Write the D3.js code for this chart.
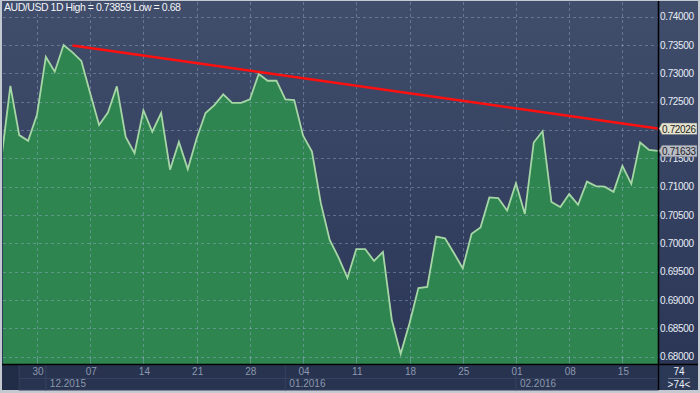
<!DOCTYPE html>
<html>
<head>
<meta charset="utf-8">
<script src="https://cdn.jsdelivr.net/npm/d3@7"></script>
<style>
  html, body { margin: 0; padding: 0; background: #c4c8d0; }
  svg { display: block; }
  text { font-family: "Liberation Sans", Arial, sans-serif; }
</style>
</head>
<body>
<div class="vis-chart"></div>
<script>
// daily closes, AUD/USD, 25.11.2015 .. 19.02.2016 (6 bars per week)
const closes = [
    0.7151, 0.7278, 0.7191, 0.7181, 0.7227, 0.7329, 0.7303, 0.7350, 0.7337, 0.7322,
    0.7265, 0.7209, 0.7231, 0.7277, 0.7188, 0.7159, 0.7235, 0.7197, 0.7230, 0.7130,
    0.7179, 0.7131, 0.7185, 0.7230, 0.7244, 0.7263, 0.7248, 0.7248, 0.7254, 0.7299,
    0.7287, 0.7287, 0.7254, 0.7253, 0.7190, 0.7162, 0.7071, 0.7006, 0.6975, 0.6939,
    0.6990, 0.6990, 0.6969, 0.6985, 0.6865, 0.6805, 0.6859, 0.6921, 0.6923, 0.7012,
    0.7009, 0.6983, 0.6956, 0.7017, 0.7028, 0.7081, 0.7080, 0.7058, 0.7106, 0.7052,
    0.7178, 0.7198, 0.7073, 0.7064, 0.7087, 0.7068, 0.7109, 0.7101, 0.7100, 0.7091,
    0.7137, 0.7105, 0.7178, 0.7165, 0.71633
];
// bar index of each Monday and its day label
const dayTicks = [4, 10, 16, 22, 28, 34, 40, 46, 52, 58, 64, 70];
const dayLabels = ['30', '07', '14', '21', '28', '04', '11', '18', '25', '01', '08', '15'];
// first bar of each month
const monthStarts = [5, 32, 58];
const monthLabels = ['12.2015', '01.2016', '02.2016'];
// price axis
const priceTicks = [0.68, 0.685, 0.69, 0.695, 0.70, 0.705, 0.71, 0.715, 0.72, 0.725, 0.73, 0.735, 0.74];
// trend line (bar index, price)
const trendIdx = [8, 74];
const trendVal = [0.7349, 0.72026];

const title = 'AUD/USD 1D High = 0.73859 Low = 0.68';
const barCount = 74;

const W = 700, H = 393;
const plot = { left: 3, right: 658, top: 2, bottom: 364 };

const svg = d3.select('.vis-chart')
    .append('svg')
    .attr('width', W)
    .attr('height', H);

const defs = svg.append('defs');
const grad = defs.append('linearGradient')
    .attr('id', 'bg')
    .attr('x1', 0).attr('y1', 0).attr('x2', 0).attr('y2', 1);
grad.append('stop').attr('offset', '0%').attr('stop-color', '#404d6b');
grad.append('stop').attr('offset', '100%').attr('stop-color', '#2a3555');
defs.append('clipPath').attr('id', 'clip')
    .append('rect')
    .attr('x', plot.left).attr('y', plot.top)
    .attr('width', plot.right - plot.left).attr('height', plot.bottom - plot.top);

// frame + panels
svg.append('rect').attr('width', W).attr('height', H).attr('fill', '#c4c8d0');
svg.append('rect')
    .attr('x', 2).attr('y', 1).attr('width', W - 4).attr('height', 389)
    .attr('fill', 'url(#bg)');
svg.append('rect')
    .attr('x', 2).attr('y', plot.bottom).attr('width', W - 4).attr('height', 390 - plot.bottom)
    .attr('fill', '#212c47');

// scales
const x = d3.scaleLinear().domain([0, closes.length - 1]).range([1.5, 657.9]);
const y = d3.scaleLinear().domain([0.68, 0.74]).range([356.7, 16.7]);

const g = svg.append('g').attr('clip-path', 'url(#clip)');

// area + line
const area = d3.area()
    .x((d, i) => x(i))
    .y0(plot.bottom)
    .y1(d => y(d));
g.append('path')
    .datum(closes)
    .attr('d', area)
    .attr('fill', '#2e854f');

// grid on top of the fill
const gridColor = 'rgba(150,172,205,0.45)';
g.selectAll('.hgrid')
    .data(priceTicks)
    .enter()
    .append('line')
    .attr('class', 'hgrid')
    .attr('x1', plot.left).attr('x2', plot.right)
    .attr('y1', d => Math.round(y(d)) + 0.5).attr('y2', d => Math.round(y(d)) + 0.5)
    .attr('stroke', gridColor)
    .attr('stroke-dasharray', '3,3');
g.selectAll('.vgrid')
    .data(dayTicks)
    .enter()
    .append('line')
    .attr('class', 'vgrid')
    .attr('y1', plot.top).attr('y2', plot.bottom)
    .attr('x1', d => Math.round(x(d)) + 0.5).attr('x2', d => Math.round(x(d)) + 0.5)
    .attr('stroke', gridColor)
    .attr('stroke-dasharray', '3,3');

const line = d3.line()
    .x((d, i) => x(i))
    .y(d => y(d));
g.append('path')
    .datum(closes)
    .attr('d', line)
    .attr('fill', 'none')
    .attr('stroke', '#a6d6a6')
    .attr('stroke-width', 1.8);

// trend line
g.append('line')
    .attr('x1', x(trendIdx[0])).attr('y1', y(trendVal[0]))
    .attr('x2', x(trendIdx[1])).attr('y2', y(trendVal[1]))
    .attr('stroke', '#ff1010')
    .attr('stroke-width', 2.5);

// time axis: month cells (first one is the partial november)
const cellEdges = [x(2)].concat(monthStarts.map(i => x(i))).concat([plot.right]);
svg.selectAll('.mcell')
    .data(cellEdges.slice(0, -1))
    .enter()
    .append('rect')
    .attr('class', 'mcell')
    .attr('x', d => d)
    .attr('y', plot.bottom + 1)
    .attr('width', (d, i) => cellEdges[i + 1] - d)
    .attr('height', 390 - plot.bottom - 1)
    .attr('fill', '#27334f')
    .attr('stroke', '#34415f')
    .attr('stroke-width', 1);
svg.append('line')
    .attr('x1', x(2)).attr('x2', plot.right)
    .attr('y1', 378.5).attr('y2', 378.5)
    .attr('stroke', '#34415f');

// separators
svg.append('line')
    .attr('x1', plot.right + 0.5).attr('x2', plot.right + 0.5)
    .attr('y1', 1).attr('y2', 390)
    .attr('stroke', '#000').attr('stroke-width', 1.5);
svg.append('line')
    .attr('x1', 2).attr('x2', W - 2)
    .attr('y1', plot.bottom + 0.5).attr('y2', plot.bottom + 0.5)
    .attr('stroke', '#000').attr('stroke-width', 1.5);

// title
svg.append('text')
    .attr('x', 4).attr('y', 11)
    .attr('font-size', '10.5px')
    .attr('letter-spacing', '-0.45px')
    .attr('fill', '#f2f4f8')
    .text(title);

// price markers: trend end and last close
const markers = [
    { v: trendVal[1], fill: '#e6e4cf', text: '#1a1a1a' },
    { v: closes[closes.length - 1], fill: '#b9bdc5', text: '#1e222a' }
];

// price axis labels (a label fully under a marker is not shown, as in the terminal)
svg.selectAll('.ylab')
    .data(priceTicks.filter(t => !markers.some(m => Math.abs(y(t) - y(m.v)) < 4)))
    .enter()
    .append('text')
    .attr('class', 'ylab')
    .attr('x', 660)
    .attr('y', d => y(d) + 3.6)
    .attr('font-size', '10px')
    .attr('letter-spacing', '-0.35px')
    .attr('fill', '#e8edf6')
    .text(d => d.toFixed(5));

markers.forEach(m => {
    const cy = y(m.v);
    svg.append('path')
        .attr('d', `M659,${cy} L662,${cy - 5.5} L697,${cy - 5.5} L697,${cy + 6} L662,${cy + 6} Z`)
        .attr('fill', m.fill)
        .attr('stroke', '#6a7080')
        .attr('stroke-width', 0.5);
    svg.append('text')
        .attr('x', 662).attr('y', cy + 4)
        .attr('font-size', '10px')
        .attr('letter-spacing', '-0.35px')
        .attr('fill', m.text)
        .text(m.v.toFixed(5));
});

// tick marks under the plot
svg.selectAll('.dtick')
    .data(dayTicks)
    .enter()
    .append('line')
    .attr('x1', d => Math.round(x(d)) + 0.5).attr('x2', d => Math.round(x(d)) + 0.5)
    .attr('y1', 358).attr('y2', 362)
    .attr('stroke', gridColor);

svg.selectAll('.dlab')
    .data(dayTicks)
    .enter()
    .append('text')
    .attr('class', 'dlab')
    .attr('x', d => x(d) + 1)
    .attr('y', 375)
    .attr('text-anchor', 'middle')
    .attr('font-size', '10px')
    .attr('fill', '#8d98ae')
    .text((d, i) => dayLabels[i]);

svg.selectAll('.mlab')
    .data(monthStarts)
    .enter()
    .append('text')
    .attr('class', 'mlab')
    .attr('x', d => x(d) + 4)
    .attr('y', 387)
    .attr('font-size', '10px')
    .attr('fill', '#8d98ae')
    .text((d, i) => monthLabels[i]);

// corner: bar count
svg.append('rect')
    .attr('x', plot.right + 1.5).attr('y', plot.bottom + 1.5)
    .attr('width', W - 2 - plot.right - 1.5).attr('height', 390 - plot.bottom - 1.5)
    .attr('fill', '#2b3856');
svg.append('text')
    .attr('x', 679).attr('y', 375)
    .attr('text-anchor', 'middle')
    .attr('font-size', '10px')
    .attr('fill', '#eef2f8')
    .text(barCount);
svg.append('line')
    .attr('x1', 668).attr('x2', 690)
    .attr('y1', 378.5).attr('y2', 378.5)
    .attr('stroke', '#6a7590');
svg.append('text')
    .attr('x', 679).attr('y', 388)
    .attr('text-anchor', 'middle')
    .attr('font-size', '10px')
    .attr('fill', '#eef2f8')
    .text('>' + barCount + '<');
</script>
</body>
</html>
